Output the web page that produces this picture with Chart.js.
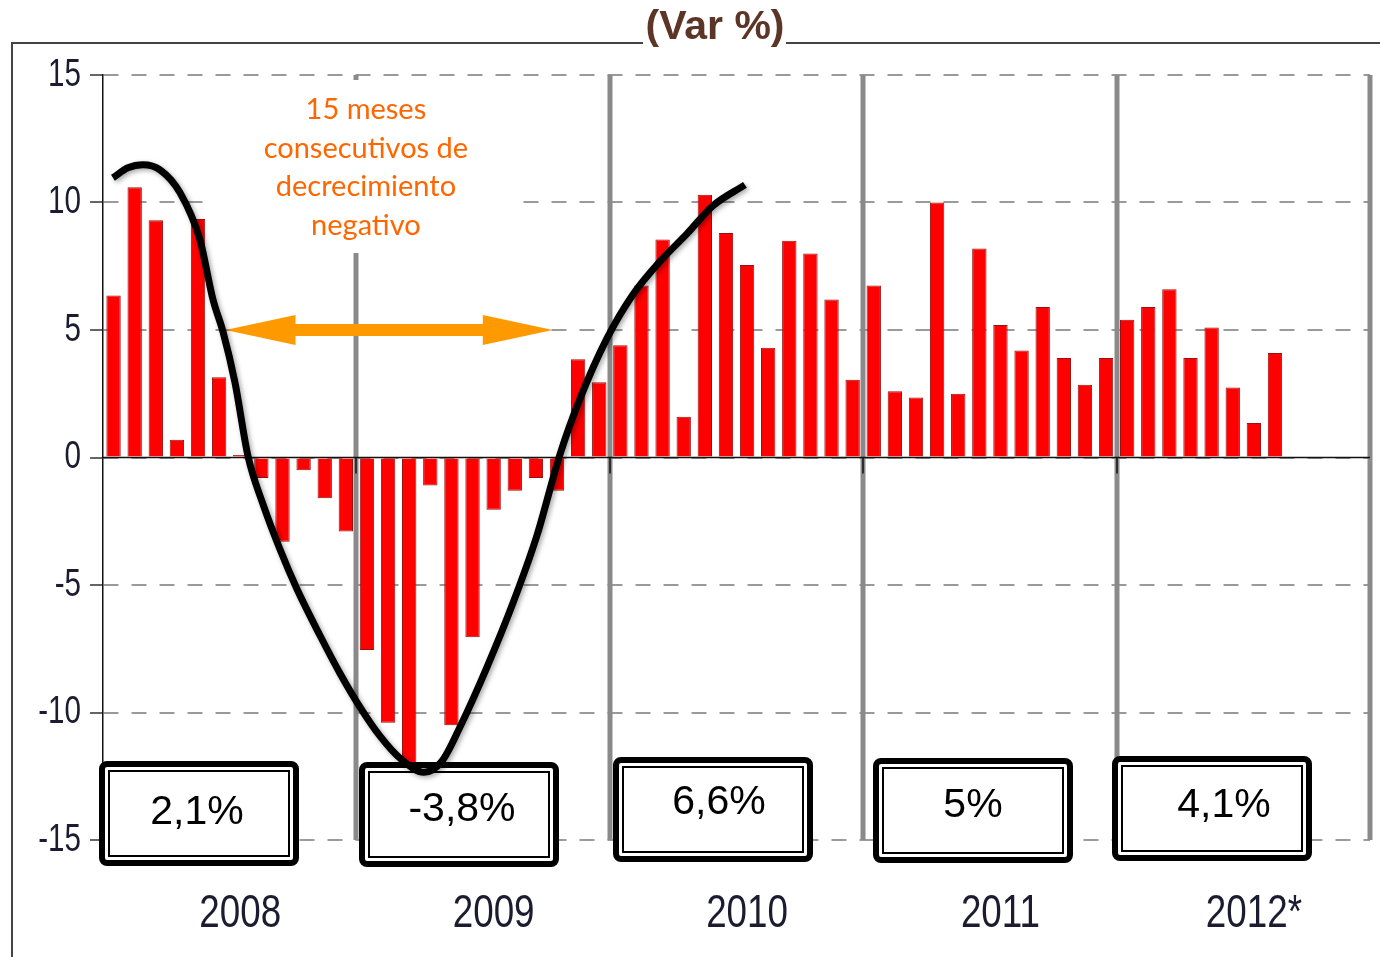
<!DOCTYPE html>
<html>
<head>
<meta charset="utf-8">
<title>(Var %)</title>
<script src="https://cdn.jsdelivr.net/npm/chart.js@4.4.1/dist/chart.umd.min.js"></script>
<style>
  html, body { margin: 0; padding: 0; background: #fff; }
  #wrap { width: 1380px; height: 957px; }
</style>
</head>
<body>
<div id="wrap"><canvas id="growth" width="1380" height="957"></canvas></div>
<script>
// Monthly growth rate (%), one array per year
const growth2008 = [6.35, 10.6, 9.3, 0.7, 9.35, 3.15, 0.1, -0.8, -3.3, -0.5, -1.6, -2.9];
const growth2009 = [-7.55, -10.4, -12.1, -1.1, -10.5, -7.05, -2.05, -1.3, -0.8, -1.3, 3.85, 2.95];
const growth2010 = [4.4, 6.75, 8.55, 1.6, 10.3, 8.8, 7.55, 4.3, 8.5, 8.0, 6.2, 3.05];
const growth2011 = [6.75, 2.6, 2.35, 10.0, 2.5, 8.2, 5.2, 4.2, 5.9, 3.9, 2.85, 3.9];
const growth2012 = [5.4, 5.9, 6.6, 3.9, 5.1, 2.75, 1.35, 4.1];

const years = ['2008', '2009', '2010', '2011', '2012*'];
const annualRates = ['2,1%', '-3,8%', '6,6%', '5%', '4,1%'];
const yTicks = [-15, -10, -5, 0, 5, 10, 15];
const monthsShown = years.length * 12;

const monthlyGrowth = [].concat(growth2008, growth2009, growth2010, growth2011, growth2012);

// hand drawn trend curve: x in months (0 = Jan 2008), y in %
const trendX = [-0.03, 0.68, 1.39, 2.2, 3.15, 4.09, 4.71, 5.18, 5.75, 6.37, 7.08, 7.88, 8.69, 9.77, 10.72, 11.67, 12.62, 13.56,
  14.7, 15.55, 16.4, 17.68, 18.91, 20.05, 21.14, 22.09, 23.36, 24.59, 25.87, 27.15, 28.38, 29.9];
const trendY = [10.97, 11.36, 11.48, 11.28, 10.38, 8.54, 6.19, 4.94, 2.94, 0.04, -1.84, -3.6, -5.17, -6.97, -8.46, -9.79, -10.93, -11.79,
  -12.34, -11.91, -10.58, -8.23, -5.72, -3.06, 0.12, 2.31, 4.66, 6.38, 7.68, 8.77, 9.87, 10.69];

// arrow over the months of negative growth
const arrowFrom = 5.3, arrowTo = 20.8, arrowLevel = 5;
const noteLines = ['15 meses', 'consecutivos de', 'decrecimiento', 'negativo'];

const axisInk = '#1c1c30';
const axisFont = "'Liberation Sans', Arial, sans-serif";

// boxes with the yearly rate
const boxCenters = [4.05, 16.36, 28.38, 40.69, 52.01];
const boxTops = [761, 762, 757, 758, 756];
const boxTextDx = [-2, 3, 6, 0, 12];
const boxTextY = [813, 810, 803, 806, 806];

// axis labels are drawn squeezed, like a narrow face
function squeezedText(ctx, text, x, y, align, sx) {
  ctx.save();
  ctx.translate(x, y);
  ctx.scale(sx, 1);
  ctx.textAlign = align;
  ctx.fillText(text, 0, 0);
  ctx.restore();
}

const decor = {
  id: 'decor',
  beforeDraw(chart) {
    const ctx = chart.ctx;
    ctx.save();
    ctx.fillStyle = '#fff';
    ctx.fillRect(0, 0, chart.width, chart.height);
    // outer frame
    ctx.strokeStyle = '#444';
    ctx.lineWidth = 2;
    ctx.beginPath();
    ctx.moveTo(12, chart.height);
    ctx.lineTo(12, 43);
    ctx.lineTo(chart.width, 43);
    ctx.stroke();
    ctx.restore();
  },
  beforeDatasetsDraw(chart) {
    const { ctx, chartArea: a, scales: { x, y } } = chart;
    ctx.save();
    // gray year separators
    ctx.strokeStyle = '#8a8a8a';
    ctx.lineWidth = 5;
    for (let i = 1; i <= years.length; i++) {
      const px = Math.round(x.getPixelForValue(i * 12 - 0.5));
      ctx.beginPath();
      ctx.moveTo(px, a.top);
      ctx.lineTo(px, a.bottom);
      ctx.stroke();
    }
    // zero line and the little ticks under it
    const y0 = y.getPixelForValue(0);
    ctx.strokeStyle = '#111';
    ctx.lineWidth = 1.5;
    ctx.beginPath();
    ctx.moveTo(a.left, y0);
    ctx.lineTo(a.right, y0);
    for (let i = 1; i < years.length; i++) {
      const px = Math.round(x.getPixelForValue(i * 12 - 0.5));
      ctx.moveTo(px, y0);
      ctx.lineTo(px, y0 + 16);
    }
    ctx.stroke();
    ctx.restore();
  },
  beforeDatasetDraw(chart, args) {
    if (args.index !== 1) return;
    const ctx = chart.ctx;
    ctx.save();
    ctx.shadowColor = 'rgba(0,0,0,0.35)';
    ctx.shadowBlur = 5;
    ctx.shadowOffsetX = 2;
    ctx.shadowOffsetY = 2;
  },
  afterDatasetDraw(chart, args) {
    const { ctx, scales: { x, y } } = chart;
    if (args.index === 1) {
      ctx.restore();
      return;
    }
    if (args.index !== 0) return;
    ctx.save();

    // note with white background
    const noteX = x.getPixelForValue(11.95);
    ctx.fillStyle = '#fff';
    ctx.fillRect(215, 80, 303, 173);
    ctx.fillStyle = '#ff6600';
    ctx.font = "29px Lato, 'Open Sans', sans-serif";
    ctx.textAlign = 'center';
    ctx.textBaseline = 'middle';
    noteLines.forEach((t, i) => ctx.fillText(t, noteX, 110 + i * 38.5));

    // double headed arrow
    const ya = y.getPixelForValue(arrowLevel);
    const xl = x.getPixelForValue(arrowFrom), xr = x.getPixelForValue(arrowTo);
    const head = 70, half = 15, shaft = 6;
    ctx.fillStyle = '#ff9900';
    ctx.beginPath();
    ctx.moveTo(xl, ya);
    ctx.lineTo(xl + head, ya - half);
    ctx.lineTo(xl + head, ya - shaft);
    ctx.lineTo(xr - head, ya - shaft);
    ctx.lineTo(xr - head, ya - half);
    ctx.lineTo(xr, ya);
    ctx.lineTo(xr - head, ya + half);
    ctx.lineTo(xr - head, ya + shaft);
    ctx.lineTo(xl + head, ya + shaft);
    ctx.lineTo(xl + head, ya + half);
    ctx.closePath();
    ctx.fill();

    // yearly rate boxes
    const bw = 200, bh = 105;
    boxCenters.forEach((c, i) => {
      const x0 = Math.round(x.getPixelForValue(c) - bw / 2);
      const top = boxTops[i];
      ctx.fillStyle = '#fff';
      ctx.strokeStyle = '#000';
      ctx.lineWidth = 6;
      ctx.beginPath();
      ctx.roundRect(x0 + 3, top + 3, bw - 6, bh - 6, 5);
      ctx.fill();
      ctx.stroke();
      ctx.lineWidth = 2;
      ctx.strokeRect(x0 + 10, top + 10, bw - 20, bh - 20);
      ctx.fillStyle = '#000';
      ctx.font = "41px 'Liberation Sans', Arial, sans-serif";
      ctx.textAlign = 'center';
      ctx.textBaseline = 'middle';
      ctx.fillText(annualRates[i], x0 + bw / 2 + boxTextDx[i], boxTextY[i]);
    });
    ctx.restore();
  },
  afterDraw(chart) {
    const { ctx, chartArea: a, scales: { x, y } } = chart;
    ctx.save();
    // tick labels from the scales' own ticks
    ctx.fillStyle = axisInk;
    ctx.textBaseline = 'middle';
    ctx.font = '39px ' + axisFont;
    y.ticks.forEach(t => squeezedText(ctx, String(t.value), a.left - 22, y.getPixelForValue(t.value), 'right', 0.76));
    ctx.font = '46px ' + axisFont;
    x.ticks.forEach(t => squeezedText(ctx, years[Math.round((t.value - 6) / 12)], x.getPixelForValue(t.value), 914, 'center', 0.8));

    // title over the frame line
    ctx.fillStyle = '#fff';
    ctx.fillRect(643, 30, 143, 20);
    ctx.fillStyle = '#5c3526';
    ctx.font = "bold 41px 'Liberation Sans', Arial, sans-serif";
    ctx.textAlign = 'center';
    ctx.textBaseline = 'alphabetic';
    ctx.fillText('(Var %)', 715, 39);
    ctx.restore();
  }
};

new Chart(document.getElementById('growth'), {
  type: 'bar',
  data: {
    datasets: [
      {
        type: 'bar',
        data: monthlyGrowth.map((v, i) => ({ x: i, y: v })),
        backgroundColor: '#ff0000',
        borderColor: '#9b1010',
        borderWidth: 1,
        barPercentage: 0.68,
        categoryPercentage: 1,
        order: 2
      },
      {
        type: 'line',
        data: trendX.map((v, i) => ({ x: v, y: trendY[i] })),
        borderColor: '#000',
        borderWidth: 7,
        pointRadius: 0,
        cubicInterpolationMode: 'monotone',
        fill: false,
        order: 1
      }
    ]
  },
  options: {
    responsive: false,
    animation: false,
    devicePixelRatio: 1,
    layout: { padding: { top: 75, right: 10, left: 0, bottom: 0 } },
    plugins: { legend: { display: false }, tooltip: { enabled: false } },
    scales: {
      x: {
        type: 'linear',
        position: 'bottom',
        offset: false,
        bounds: 'data',
        min: -0.5,
        max: monthsShown - 0.5,
        afterBuildTicks: s => { s.ticks = years.map((_, i) => ({ value: i * 12 + 6 })); },
        grid: { display: false, drawTicks: false },
        border: { display: false },
        ticks: { display: false },
        afterFit: s => { s.height = 117; }
      },
      y: {
        min: yTicks[0],
        max: yTicks[yTicks.length - 1],
        afterBuildTicks: s => { s.ticks = yTicks.map(v => ({ value: v })); },
        ticks: { display: false },
        grid: {
          color: '#9a9a9a',
          lineWidth: 2,
          tickLength: 13,
          tickColor: '#333',
          tickWidth: 1.5,
          tickBorderDash: []
        },
        border: { display: true, color: '#111', width: 1.5, dash: [15, 13] },
        afterFit: s => { s.width = 103; }
      }
    }
  },
  plugins: [decor]
});
</script>
</body>
</html>
